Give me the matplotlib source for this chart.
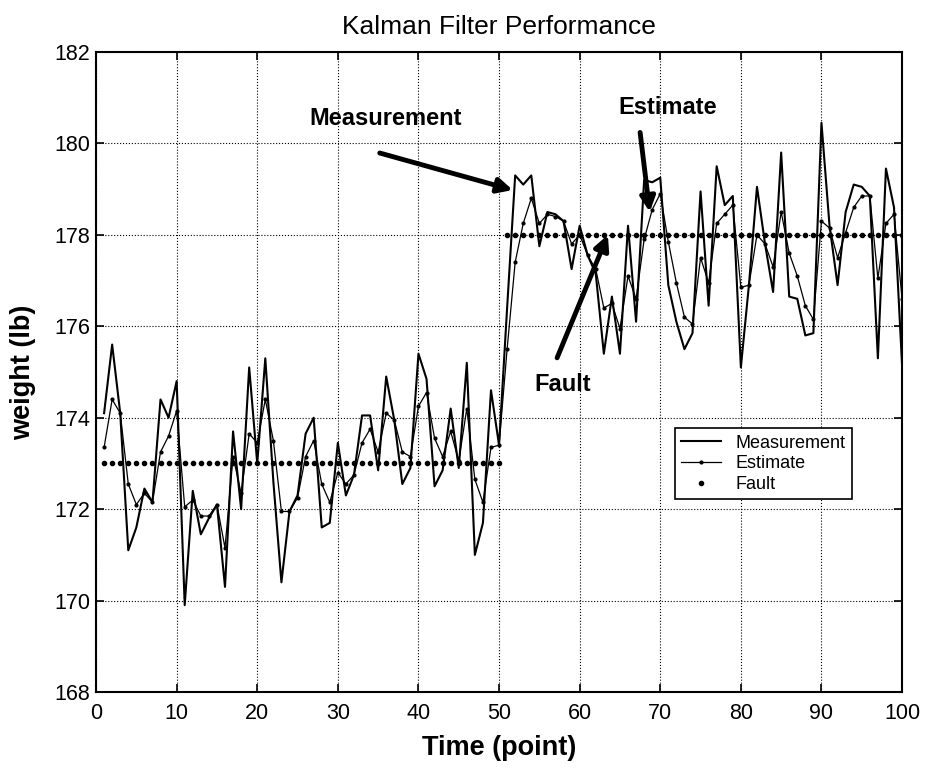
import numpy as np
import matplotlib
matplotlib.use('Agg')
import matplotlib.pyplot as plt

plt.rcParams['font.family'] = ['Liberation Sans', 'DejaVu Sans']

# sample index
t = np.arange(1, 101)

# raw scale readings (lb)
meas = [174.1, 175.6, 174.1, 171.1, 171.6, 172.45, 172.15, 174.4, 174.0, 174.8,
        169.9, 172.4, 171.45, 171.8, 172.1, 170.3, 173.7, 172.0, 175.1, 173.0,
        175.3, 172.6, 170.4, 171.95, 172.3, 173.65, 174.0, 171.6, 171.7, 173.45,
        172.3, 172.75, 174.05, 174.05, 172.85, 174.9, 173.95, 172.55, 172.9, 175.4,
        174.85, 172.5, 172.85, 174.2, 172.9, 175.2, 171.0, 171.7, 174.6, 173.4,
        176.4, 179.3, 179.1, 179.3, 177.75, 178.5, 178.45, 178.3, 177.25, 178.2,
        177.55, 177.15, 175.4, 176.65, 175.4, 178.2, 176.1, 179.2, 179.15, 179.25,
        176.9, 176.1, 175.5, 175.85, 178.95, 176.45, 179.5, 178.65, 178.85, 175.1,
        176.9, 179.05, 177.8, 176.75, 179.8, 176.65, 176.6, 175.8, 175.85, 180.45,
        178.2, 176.9, 178.5, 179.1, 179.05, 178.85, 175.3, 179.45, 178.6, 175.15]

# kalman estimate (lb)
est = [173.35, 174.4, 174.1, 172.55, 172.1, 172.35, 172.15, 173.25, 173.6, 174.15,
       172.05, 172.2, 171.85, 171.85, 172.1, 171.15, 173.15, 172.35, 173.65, 173.45,
       174.4, 173.5, 171.95, 171.95, 172.25, 173.15, 173.5, 172.55, 172.15, 172.8,
       172.55, 172.75, 173.45, 173.75, 173.25, 174.1, 173.95, 173.25, 173.15, 174.25,
       174.55, 173.55, 173.15, 173.7, 173.05, 174.2, 172.65, 172.15, 173.35, 173.4,
       175.5, 177.4, 178.25, 178.8, 178.25, 178.45, 178.4, 178.3, 177.8, 178.0,
       177.55, 177.25, 176.4, 176.5, 175.95, 177.1, 176.6, 177.9, 178.55, 178.9,
       177.85, 176.95, 176.2, 176.05, 177.5, 176.95, 178.25, 178.45, 178.65, 176.85,
       176.9, 178.0, 177.8, 177.3, 178.5, 177.6, 177.1, 176.45, 176.15, 178.3,
       178.15, 177.5, 178.05, 178.6, 178.85, 178.85, 177.05, 178.25, 178.45, 176.6]

# true weight with the step fault
fault = [173.0] * 50 + [178.0] * 50

fig = plt.figure(figsize=(9.27, 7.69), dpi=100)
ax = fig.add_axes([0.1036, 0.1001, 0.8695, 0.8323])

ax.plot(t, meas, color='k', lw=1.5, label='Measurement')
ax.plot(t, est, color='k', lw=0.9, marker='.', markersize=4, label='Estimate')
ax.plot(t, fault, color='k', ls='none', marker='.', markersize=6, label='Fault')

ax.set_xlim(0, 100)
ax.set_ylim(168, 182)
ax.set_xticks(np.arange(0, 101, 10))
ax.set_yticks(np.arange(168, 183, 2))
ax.grid(True, color='k', linestyle=':', linewidth=0.8)
ax.tick_params(direction='in', top=True, right=True, labelsize=15.5, length=6, width=1.2)
ax.tick_params(axis='x', pad=8)
ax.tick_params(axis='y', pad=4)
for s in ax.spines.values():
    s.set_linewidth(1.5)

ax.set_title('Kalman Filter Performance', fontsize=19, pad=13)
ax.set_xlabel('Time (point)', fontsize=19.5, fontweight='bold', labelpad=8)
ax.set_ylabel('weight (lb)', fontsize=19.5, fontweight='bold', labelpad=13)

arrow = dict(arrowstyle='-|>', color='k', lw=3.5, mutation_scale=22, shrinkA=0, shrinkB=0)
ax.annotate('', xy=(51.7, 178.98), xytext=(35.2, 179.79), arrowprops=arrow)
ax.annotate('', xy=(68.7, 178.5), xytext=(67.5, 180.24), arrowprops=arrow)
ax.annotate('', xy=(63.5, 178.0), xytext=(57.2, 175.31), arrowprops=arrow)
ax.text(35.9, 180.55, 'Measurement', fontsize=17, fontweight='bold', ha='center', va='center')
ax.text(70.9, 180.79, 'Estimate', fontsize=17, fontweight='bold', ha='center', va='center')
ax.text(57.9, 174.72, 'Fault', fontsize=17, fontweight='bold', ha='center', va='center')

leg = ax.legend(loc='upper left', bbox_to_anchor=(0.718, 0.412), borderaxespad=0,
                fontsize=13, fancybox=False, edgecolor='k', framealpha=1,
                handlelength=2.2, borderpad=0.35, labelspacing=0.2)
leg.get_frame().set_linewidth(1.2)

fig.savefig('out.png', dpi=100)
